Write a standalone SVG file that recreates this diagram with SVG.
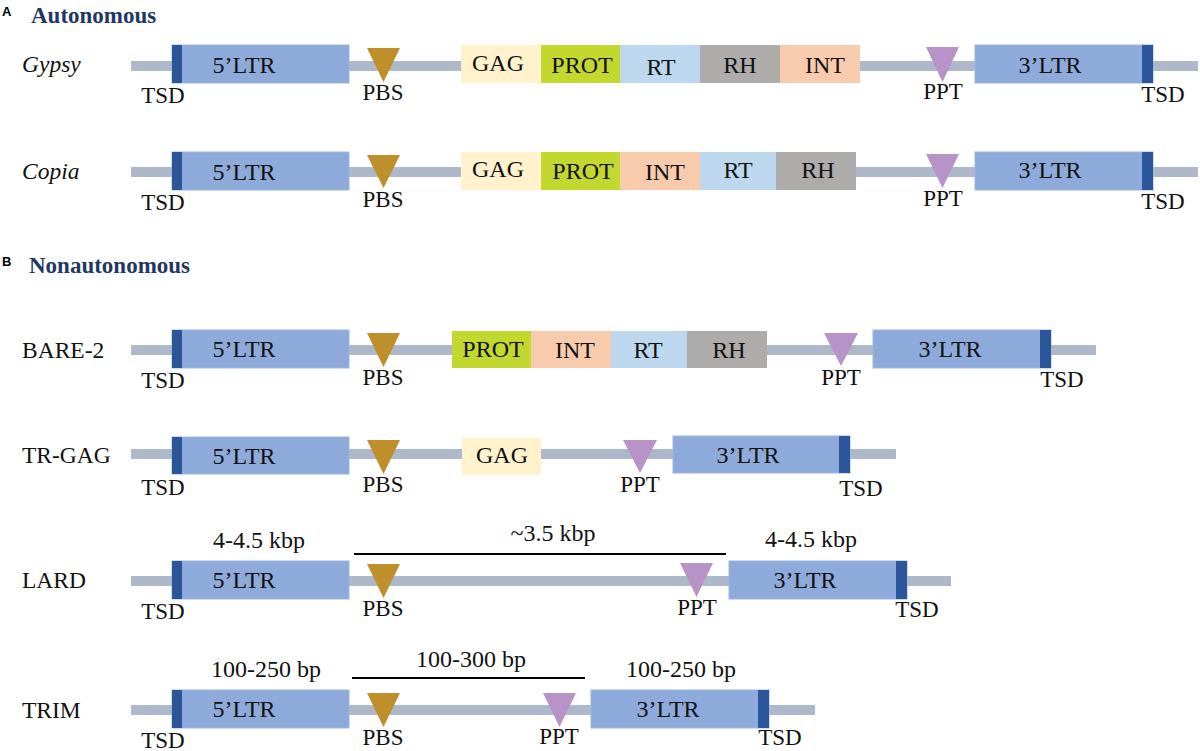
<svg xmlns="http://www.w3.org/2000/svg" width="1200" height="751" viewBox="0 0 1200 751">
<style>
text{font-family:"Liberation Serif","Times New Roman",serif;fill:#111;}
.lbl{font-size:24px;text-anchor:middle;}
.sm{font-size:23px;text-anchor:middle;}
.row{font-size:23.5px;}
.it{font-style:italic;}
.ttl{font-size:23px;font-weight:bold;fill:#1f3864;}
.pl{font-family:"Liberation Sans",Arial,sans-serif;font-size:13px;font-weight:bold;fill:#000;}
.bb{fill:#adb9ca;}
.ltr{fill:#8eaadb;stroke:#9cb5e0;stroke-width:1;}
.tsd{fill:#2b579a;}
.pbs{fill:#bf8f2c;}
.ppt{fill:#b793c8;}
.gag{fill:#fff2cc;}
.prot{fill:#c2d82e;}
.rt{fill:#bdd7ee;}
.rh{fill:#aeabab;}
.int{fill:#f8cbad;}
.span{stroke:#000;stroke-width:2;fill:none;}
</style>

<text class="pl" x="2" y="16">A</text>
<text class="ttl" x="31" y="23">Autonomous</text>
<text class="pl" x="2" y="266">B</text>
<text class="ttl" x="29" y="273">Nonautonomous</text>

<g id="connectors">
  <rect class="bb" x="131" y="61" width="1067" height="10"/>
  <rect class="bb" x="131" y="167" width="1067" height="10"/>
  <rect class="bb" x="131" y="345" width="965" height="10"/>
  <rect class="bb" x="131" y="449" width="765" height="10"/>
  <rect class="bb" x="131" y="576" width="820" height="10"/>
  <rect class="bb" x="131" y="705" width="684" height="10"/>
  <line class="span" x1="354" y1="554" x2="726" y2="554"/>
  <line class="span" x1="352" y1="678" x2="585" y2="678"/>
</g>

<!-- Gypsy -->
<g id="gypsy">
  <text class="row it" x="22" y="72">Gypsy</text>
  <g id="gypsy-5ltr"><rect class="ltr" x="172" y="45" width="177" height="38"/><rect class="tsd" x="172" y="45" width="10" height="38"/><text class="lbl" x="244" y="73">5’LTR</text></g>
  <text class="sm" x="163" y="103">TSD</text>
  <g id="gypsy-pbs"><polygon class="pbs" points="367,48 400,48 383.5,82"/><text class="sm" x="383" y="100">PBS</text></g>
  <g id="gypsy-gag"><rect class="gag" x="461" y="45" width="80" height="38"/><text class="lbl" x="498" y="71">GAG</text></g>
  <g id="gypsy-prot"><rect class="prot" x="541" y="45" width="79" height="38"/><text class="lbl" x="582" y="73">PROT</text></g>
  <g id="gypsy-rt"><rect class="rt" x="620" y="45" width="80" height="38"/><text class="lbl" x="661" y="75">RT</text></g>
  <g id="gypsy-rh"><rect class="rh" x="700" y="45" width="80" height="38"/><text class="lbl" x="740" y="73">RH</text></g>
  <g id="gypsy-int"><rect class="int" x="780" y="45" width="80" height="38"/><text class="lbl" x="825" y="73">INT</text></g>
  <g id="gypsy-ppt"><polygon class="ppt" points="926,47 959,47 942.5,82"/><text class="sm" x="943" y="99">PPT</text></g>
  <g id="gypsy-3ltr"><rect class="ltr" x="975" y="45" width="178" height="38"/><rect class="tsd" x="1142" y="45" width="11" height="38"/><text class="lbl" x="1050" y="73">3’LTR</text></g>
  <text class="sm" x="1163" y="102">TSD</text>
</g>

<!-- Copia -->
<g id="copia">
  <text class="row it" x="22" y="179">Copia</text>
  <g id="copia-5ltr"><rect class="ltr" x="172" y="152" width="177" height="38"/><rect class="tsd" x="172" y="152" width="10" height="38"/><text class="lbl" x="244" y="180">5’LTR</text></g>
  <text class="sm" x="163" y="210">TSD</text>
  <g id="copia-pbs"><polygon class="pbs" points="367,155 400,155 383.5,188"/><text class="sm" x="383" y="207">PBS</text></g>
  <g id="copia-gag"><rect class="gag" x="461" y="152" width="80" height="38"/><text class="lbl" x="498" y="177">GAG</text></g>
  <g id="copia-prot"><rect class="prot" x="541" y="152" width="79" height="38"/><text class="lbl" x="583" y="179">PROT</text></g>
  <g id="copia-int"><rect class="int" x="620" y="152" width="80" height="38"/><text class="lbl" x="665" y="180">INT</text></g>
  <g id="copia-rt"><rect class="rt" x="700" y="152" width="76" height="38"/><text class="lbl" x="738" y="178">RT</text></g>
  <g id="copia-rh"><rect class="rh" x="776" y="152" width="80" height="38"/><text class="lbl" x="818" y="178">RH</text></g>
  <g id="copia-ppt"><polygon class="ppt" points="926,154 959,154 942.5,188"/><text class="sm" x="943" y="206">PPT</text></g>
  <g id="copia-3ltr"><rect class="ltr" x="975" y="152" width="178" height="38"/><rect class="tsd" x="1142" y="152" width="11" height="38"/><text class="lbl" x="1050" y="178">3’LTR</text></g>
  <text class="sm" x="1163" y="209">TSD</text>
</g>

<!-- BARE-2 -->
<g id="bare2">
  <text class="row" x="22" y="358">BARE-2</text>
  <g id="bare2-5ltr"><rect class="ltr" x="172" y="330" width="177" height="38"/><rect class="tsd" x="172" y="330" width="10" height="38"/><text class="lbl" x="244" y="357">5’LTR</text></g>
  <text class="sm" x="163" y="388">TSD</text>
  <g id="bare2-pbs"><polygon class="pbs" points="367,333 400,333 383.5,367"/><text class="sm" x="383" y="385">PBS</text></g>
  <g id="bare2-prot"><rect class="prot" x="452" y="331" width="79" height="37"/><text class="lbl" x="493" y="357">PROT</text></g>
  <g id="bare2-int"><rect class="int" x="531" y="331" width="80" height="37"/><text class="lbl" x="575" y="358">INT</text></g>
  <g id="bare2-rt"><rect class="rt" x="611" y="331" width="76" height="37"/><text class="lbl" x="648" y="358">RT</text></g>
  <g id="bare2-rh"><rect class="rh" x="687" y="331" width="80" height="37"/><text class="lbl" x="729" y="358">RH</text></g>
  <g id="bare2-ppt"><polygon class="ppt" points="824,333 858,333 841,366"/><text class="sm" x="841" y="385">PPT</text></g>
  <g id="bare2-3ltr"><rect class="ltr" x="873" y="330" width="178" height="38"/><rect class="tsd" x="1040" y="330" width="11" height="38"/><text class="lbl" x="950" y="357">3’LTR</text></g>
  <text class="sm" x="1062" y="387">TSD</text>
</g>

<!-- TR-GAG -->
<g id="trgag">
  <text class="row" x="22" y="463">TR-GAG</text>
  <g id="trgag-5ltr"><rect class="ltr" x="172" y="437" width="177" height="37"/><rect class="tsd" x="172" y="437" width="10" height="37"/><text class="lbl" x="244" y="464">5’LTR</text></g>
  <text class="sm" x="163" y="495">TSD</text>
  <g id="trgag-pbs"><polygon class="pbs" points="367,440 400,440 383.5,474"/><text class="sm" x="383" y="492">PBS</text></g>
  <g id="trgag-gag"><rect class="gag" x="462" y="438" width="79" height="37"/><text class="lbl" x="502" y="463">GAG</text></g>
  <g id="trgag-ppt"><polygon class="ppt" points="623,440 657,440 640,473"/><text class="sm" x="640" y="492">PPT</text></g>
  <g id="trgag-3ltr"><rect class="ltr" x="673" y="436" width="177" height="37"/><rect class="tsd" x="839" y="436" width="11" height="37"/><text class="lbl" x="748" y="463">3’LTR</text></g>
  <text class="sm" x="861" y="496">TSD</text>
</g>

<!-- LARD -->
<g id="lard">
  <text class="row" x="22" y="588">LARD</text>
  <text class="lbl" x="259" y="548">4-4.5 kbp</text>
  <text class="lbl" x="553" y="541">~3.5 kbp</text>
  <text class="lbl" x="811" y="547">4-4.5 kbp</text>
  <g id="lard-5ltr"><rect class="ltr" x="172" y="561" width="177" height="38"/><rect class="tsd" x="172" y="561" width="10" height="38"/><text class="lbl" x="244" y="588">5’LTR</text></g>
  <text class="sm" x="163" y="619">TSD</text>
  <g id="lard-pbs"><polygon class="pbs" points="367,564 400,564 383.5,598"/><text class="sm" x="383" y="616">PBS</text></g>
  <g id="lard-ppt"><polygon class="ppt" points="680,563 713,563 696.5,597"/><text class="sm" x="697" y="615">PPT</text></g>
  <g id="lard-3ltr"><rect class="ltr" x="729" y="561" width="178" height="38"/><rect class="tsd" x="896" y="561" width="11" height="38"/><text class="lbl" x="805" y="588">3’LTR</text></g>
  <text class="sm" x="917" y="617">TSD</text>
</g>

<!-- TRIM -->
<g id="trim">
  <text class="row" x="22" y="718">TRIM</text>
  <text class="lbl" x="266" y="677">100-250 bp</text>
  <text class="lbl" x="471" y="667">100-300 bp</text>
  <text class="lbl" x="681" y="677">100-250 bp</text>
  <g id="trim-5ltr"><rect class="ltr" x="172" y="690" width="177" height="38"/><rect class="tsd" x="172" y="690" width="10" height="38"/><text class="lbl" x="244" y="717">5’LTR</text></g>
  <text class="sm" x="163" y="748">TSD</text>
  <g id="trim-pbs"><polygon class="pbs" points="367,693 400,693 383.5,727"/><text class="sm" x="383" y="745">PBS</text></g>
  <g id="trim-ppt"><polygon class="ppt" points="543,693 576,693 559.5,727"/><text class="sm" x="559" y="744">PPT</text></g>
  <g id="trim-3ltr"><rect class="ltr" x="591" y="690" width="178" height="38"/><rect class="tsd" x="758" y="690" width="11" height="38"/><text class="lbl" x="668" y="717">3’LTR</text></g>
  <text class="sm" x="780" y="745">TSD</text>
</g>
</svg>
